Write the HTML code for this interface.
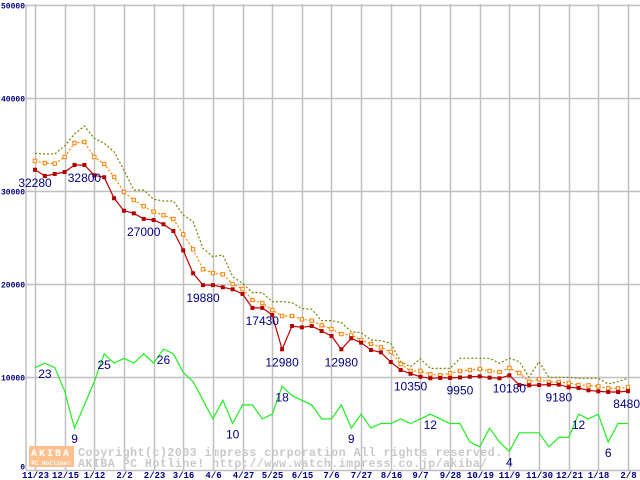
<!DOCTYPE html>
<html><head><meta charset="utf-8"><style>
body{margin:0;background:#fff;}
svg{display:block;}
</style></head><body>
<svg id="chart" width="640" height="480" xmlns="http://www.w3.org/2000/svg" font-family="Liberation Mono, monospace">
<g id="grid"></g>
<g id="ylabels"></g>
<g id="xlabels"></g>
<g>
 <rect x="29" y="446" width="45" height="21" fill="#ffc090"/>
 <text x="51" y="456" font-size="10" font-weight="bold" fill="#fff" text-anchor="middle" letter-spacing="2">AKIBA</text>
 <text x="51" y="465" font-size="6" font-weight="bold" fill="#fff" text-anchor="middle">PC Hotline!</text>
 <text x="78" y="456" font-size="11.5" font-weight="bold" fill="#c8c8c8" letter-spacing="0.55">Copyright(c)2003 impress corporation All rights reserved.</text>
 <text x="78" y="467" font-size="11.5" font-weight="bold" fill="#c8c8c8" letter-spacing="0.55">AKIBA PC Hotline!  http://www.watch.impress.co.jp/akiba/</text>
</g>
<g id="series"></g>
<g id="labels"></g>
</svg>
<script>
const dateLabels=["11/23","12/15","1/12","2/2","2/23","3/16","4/6","4/27","5/25","6/15","7/6","7/27","8/16","9/7","9/28","10/19","11/9","11/30","12/21","1/18","2/8"];
const yTicks=[0,10000,20000,30000,40000,50000];
const minPrice=[32280,31610,31830,32040,32800,32800,31690,31480,29220,27880,27600,27000,26880,26420,25700,23620,21150,19880,19880,19650,19430,18930,17430,17430,16670,12980,15480,15340,15480,14950,14410,12980,14160,13690,12900,12650,11610,10750,10350,10030,9860,9900,9900,9950,10030,10070,9930,9860,10180,9140,9100,9140,9180,9180,8890,8820,8570,8460,8390,8390,8480];
const avgPrice=[33230,33010,32940,33660,35160,35270,33660,32900,31510,29890,29030,28360,27780,27390,26990,25340,23730,21580,21180,21040,20000,19460,18280,17960,17200,16560,16560,16200,16060,15560,15160,14620,14520,13980,13550,13190,12690,11400,10650,10650,10290,10180,10400,10650,10750,10860,10650,10540,10970,10430,9500,9750,9460,9460,9350,9140,9100,8990,8780,8780,8890];
const maxPrice=[34050,33980,33980,34840,36130,36990,35660,35130,34230,32260,30110,30110,29110,28930,28930,27420,26700,23840,22940,23120,20790,20070,19070,19070,18100,18100,18000,17350,17280,16060,16060,15840,14870,14760,13980,13900,13620,11650,11110,11970,10930,10930,10930,12010,12010,12010,12010,11470,12010,11650,9970,11650,9970,9970,9970,9860,9860,9860,9250,9500,9860];
const shopCount=[22,23,22,17,9,14,19,25,23,24,23,25,23,26,25,21,19,15,11,15,10,14,14,11,12,18,16,15,14,11,11,14,9,12,9,10,10,11,10,11,12,11,10,10,6,5,9,6,4,8,8,8,5,7,7,12,11,12,6,10,10];
const priceLabelIdx=[0,5,11,17,23,25,31,38,43,48,53,60];
const countLabelIdx=[1,4,7,13,20,25,32,40,48,55,58];

const NS="http://www.w3.org/2000/svg";
const X0=35, DX=9.883, Y0=470, PXPER=93/10000;
const xs=i=>X0+DX*i;
const ys=v=>Y0-v*PXPER;
const yc=c=>ys(c*500);
function mk(tag,attrs,parent){const e=document.createElementNS(NS,tag);for(const k in attrs)e.setAttribute(k,attrs[k]);parent.appendChild(e);return e;}
const grid=document.getElementById('grid'),yl=document.getElementById('ylabels'),xl=document.getElementById('xlabels'),ser=document.getElementById('series'),lab=document.getElementById('labels');

yTicks.forEach(t=>{
 const y=Math.round(ys(t))+0.5;
 const l=mk('line',{x1:26,x2:640,y1:y,y2:y,stroke:'#c0c0c0','stroke-width':1.5},grid);
 
 
 const tx=mk('text',{x:25,y:t===0?y-1:y+3,'font-size':8,'font-weight':'bold',fill:'#000080','text-anchor':'end'},yl);
 tx.textContent=String(t);
 
 
});
{const l=mk('line',{x1:26,x2:26,y1:4,y2:470,stroke:'#c0c0c0','stroke-width':1.5},grid);
 
 }
dateLabels.forEach((d,k)=>{
 const x=Math.round(xs(k*3))+0.5;
 const l=mk('line',{x1:x,x2:x,y1:4,y2:470,stroke:'#c0c0c0','stroke-width':1.5},grid);
 
 
 const tx=mk('text',{x:x,y:478,'font-size':9,'font-weight':'bold',fill:'#000080','text-anchor':'middle'},xl);
 tx.textContent=d;
 
 
});

function line(arr,fy,attrs,name){
 const p=mk('polyline',Object.assign({points:arr.map((v,i)=>xs(i).toFixed(1)+','+fy(v).toFixed(1)).join(' '),fill:'none'},attrs),ser);
 
 
}
line(maxPrice,ys,{stroke:'#808000','stroke-width':1.2,'stroke-dasharray':'2,2'},'max-price-line');
line(avgPrice,ys,{stroke:'#ff8000','stroke-width':1.2,'stroke-dasharray':'2,2'},'avg-price-line');
avgPrice.forEach((v,i)=>{
 const r=mk('rect',{x:xs(i)-1.7,y:ys(v)-1.7,width:3.4,height:3.4,fill:'#fff',stroke:'#ff8000','stroke-width':1},ser);
 
 
});
line(minPrice,ys,{stroke:'#c00000','stroke-width':1.2},'min-price-line');
minPrice.forEach((v,i)=>{
 const r=mk('rect',{x:xs(i)-2,y:ys(v)-2,width:4,height:4,fill:'#b00000'},ser);
 
 
});
line(shopCount,yc,{stroke:'#22ee22','stroke-width':1.2},'shop-count-line');

priceLabelIdx.forEach(i=>{
 let x=xs(i);let anchor='middle';
 if(i===60){x=640;anchor='end';}
 const t=mk('text',{x:x,y:ys(minPrice[i])+17,'font-size':12,fill:'#000080','text-anchor':anchor,'font-family':'Liberation Sans, sans-serif'},lab);
 t.textContent=String(minPrice[i]);
 
 
});
countLabelIdx.forEach(i=>{
 const t=mk('text',{x:xs(i),y:yc(shopCount[i])+15,'font-size':12,fill:'#000080','text-anchor':'middle','font-family':'Liberation Sans, sans-serif'},lab);
 t.textContent=String(shopCount[i]);
 
 
});
</script>
</body></html>
